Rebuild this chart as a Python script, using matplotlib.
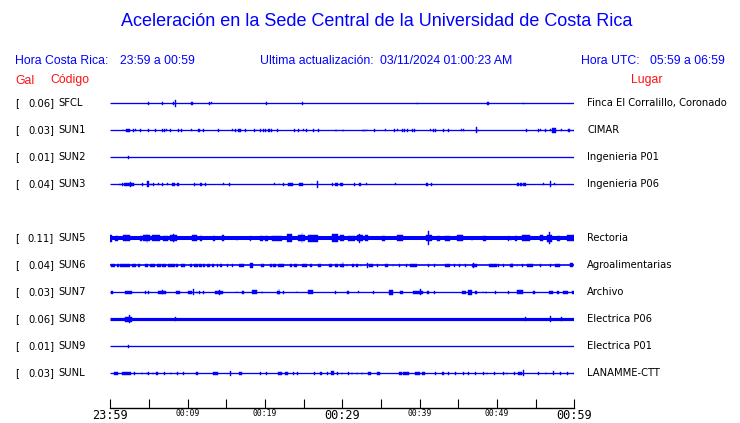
import matplotlib
matplotlib.use('Agg')
import matplotlib.pyplot as plt
import matplotlib.transforms as mtransforms

# estaciones, en el orden de la figura (la fila 4 queda vacia)
estaciones = ['SFCL', 'SUN1', 'SUN2', 'SUN3', 'SUN5', 'SUN6', 'SUN7', 'SUN8', 'SUN9', 'SUNL']
gal = [0.06, 0.03, 0.01, 0.04, 0.11, 0.04, 0.03, 0.06, 0.01, 0.03]
lugar = ['Finca El Corralillo, Coronado', 'CIMAR', 'Ingenieria P01', 'Ingenieria P06',
         'Rectoria', 'Agroalimentarias', 'Archivo', 'Electrica P06', 'Electrica P01', 'LANAMME-CTT']
fila = [0, 1, 2, 3, 5, 6, 7, 8, 9, 10]

tick_min = list(range(0, 61, 5))
tick_lab = ['23:59', '', '00:09', '', '00:19', '', '00:29', '', '00:39', '', '00:49', '', '00:59']

# eventos de cada traza: (minuto inicio, duracion en min, media amplitud)
ev_sfcl = [(4.91, 0, 1.2), (6.72, 0, 1.2), (8.15, 0, 1.2), (8.40, 0, 3.5), (10.45, 0.26, 1.5),
           (12.80, 0, 1.2), (13.02, 0, 1.0), (20.17, 0, 1.2), (24.83, 0, 1.2), (39.70, 0, 0.8),
           (48.75, 0.26, 1.5), (53.40, 0, 0.8)]
ev_sun1 = [(1.59, 0, 1), (1.98, 0.43, 1.7), (2.46, 0, 1.3), (2.97, 0, 1.3), (3.23, 0, 1.0),
           (3.79, 0.17, 1.5), (4.91, 0, 1.3), (5.82, 0, 1.3), (6.64, 0.17, 1.5), (6.94, 0, 1.3),
           (7.20, 0, 1.0), (7.67, 0.2, 1.5), (8.79, 0, 1.3), (9.09, 0.17, 1.5), (10.47, 0, 1.0),
           (11.38, 0.2, 1.5), (12.02, 0, 1.3), (13.96, 0, 1.3), (15.77, 0, 1.0), (16.12, 0, 1.3),
           (16.46, 0.26, 1.5), (16.77, 0, 1.3), (17.46, 0, 1.3), (18.62, 0, 1.3), (18.92, 0, 1.0),
           (19.39, 0, 1.3), (19.74, 0, 1.3), (20.04, 0, 1.3), (20.39, 0.3, 1.5), (20.77, 0, 1.3),
           (21.59, 0, 1.3), (23.79, 0, 1.3), (24.31, 0, 1.3), (24.95, 0, 1.0), (25.34, 0, 1.3),
           (26.25, 0, 1.3), (26.81, 0.2, 1.5), (29.14, 0, 1.3), (30.04, 0, 1.3), (32.63, 0, 1.3),
           (32.89, 0, 1.3), (33.15, 0, 1.0), (34.05, 0.2, 1.5), (35.56, 0, 1.0), (36.73, 0, 1.3),
           (37.11, 0, 1.0), (37.76, 0, 1.3), (38.02, 0, 1.3), (38.41, 0, 1.3), (39.05, 0, 1.3),
           (39.27, 0, 1.3), (41.38, 0, 1.0), (41.77, 0, 1.3), (42.03, 0, 1.3), (43.06, 0, 1.3),
           (43.71, 0, 1.3), (45.39, 0, 1.0), (45.65, 0, 1.0), (47.28, 0, 3.0), (47.50, 0, 1.5),
           (53.71, 0.2, 1.5), (55.34, 0, 1.3), (55.56, 0, 1.0), (56.25, 0, 1.3), (56.85, 0, 1.0),
           (57.15, 0.45, 2.5), (58.32, 0, 1.0), (59.14, 0.3, 1.5), (59.90, 0, 1.3)]
ev_sun2 = [(2.25, 0.22, 1.5)]
ev_sun3 = [(1.21, 0, 1.3), (1.55, 0, 1.3), (1.81, 1.2, 1.7), (2.54, 0, 2.5), (4.14, 0, 1.3),
           (4.78, 0.2, 3.0), (5.21, 0, 1.3), (5.56, 0, 1.3), (6.21, 0, 1.0), (6.72, 0, 1.3),
           (7.37, 0, 1.0), (7.93, 0.43, 1.7), (8.58, 0.26, 1.7), (10.86, 0, 1.3), (11.16, 0, 1.3),
           (11.59, 0.26, 1.5), (12.24, 0, 1.3), (14.61, 0, 1.0), (15.39, 0, 1.3), (21.20, 0, 1.0),
           (21.77, 0, 1.0), (22.37, 0, 1.3), (23.02, 0.56, 1.7), (24.44, 0.52, 1.7), (26.03, 0, 1.0),
           (26.72, 0, 3.5), (28.66, 0, 1.3), (29.05, 0.34, 1.7), (29.74, 0.34, 1.7), (31.51, 0, 1.3),
           (32.11, 0.34, 1.7), (33.06, 0, 1.0), (36.81, 0, 1.0), (40.86, 0.26, 1.5), (41.51, 0, 1.3),
           (52.59, 0.26, 1.7), (52.97, 0.22, 1.7), (53.36, 0.34, 1.7), (55.95, 0, 1.0),
           (56.90, 0, 3.0), (57.41, 0, 1.0)]
ev_sun5 = [(0.0, 0.2, 3.5), (0.60, 0.43, 2.5), (1.68, 0.86, 3.0), (3.84, 0.2, 2.5), (4.27, 0.86, 3.0),
           (4.70, 0, 4.5), (5.34, 1.08, 3.0), (6.85, 0.65, 2.5), (7.71, 0.86, 3.0), (8.10, 0, 4.0),
           (10.52, 0.65, 3.0), (11.59, 0.22, 2.5), (13.32, 0.22, 2.5), (14.40, 0.34, 3.0),
           (16.33, 0, 2.2), (18.06, 0, 2.2), (19.35, 0.43, 2.2), (20.0, 0.43, 2.5), (20.86, 1.3, 2.5),
           (22.80, 0.65, 4.0), (24.31, 0.86, 3.0), (24.74, 0, 5.0), (25.60, 1.3, 3.5), (28.62, 0.86, 4.0),
           (29.70, 0.52, 3.0), (30.78, 0.86, 2.5), (31.86, 0.86, 3.0), (32.20, 0, 4.5), (32.93, 0.43, 3.0),
           (35.09, 0.43, 2.5), (37.03, 0.86, 3.0), (40.82, 0.73, 3.0), (41.12, 0, 7.0), (42.20, 0.43, 2.5),
           (43.28, 0.65, 2.5), (44.79, 0.86, 3.0), (46.72, 0, 2.2), (48.23, 0.34, 2.5), (51.47, 0, 2.2),
           (51.77, 0, 2.2), (52.33, 0.22, 2.5), (53.19, 1.08, 3.0), (55.56, 0.43, 3.0), (56.42, 0.65, 3.5),
           (56.72, 0, 6.0), (57.72, 0.43, 2.5), (59.01, 1.08, 3.0)]
ev_sun6 = [(0.09, 0.52, 1.3), (0.82, 0.30, 1.3), (1.25, 1.29, 1.3), (2.76, 0.52, 1.3), (3.53, 0.30, 1.3),
           (4.48, 0.43, 1.3), (5.13, 0.65, 1.3), (5.99, 0.56, 1.3), (6.72, 0.43, 1.3), (7.41, 0.95, 1.3),
           (8.53, 0.26, 1.3), (9.14, 0.52, 1.3), (10.34, 0.26, 1.3), (10.86, 0.43, 1.3), (11.46, 0.34, 1.3),
           (12.02, 0.22, 1.3), (12.46, 0.47, 1.3), (13.10, 0.26, 1.3), (13.75, 0.22, 1.3), (14.18, 0.30, 1.3),
           (15.04, 0.22, 1.3), (15.69, 0.22, 1.3), (16.64, 0.60, 1.3), (18.06, 0.34, 2.5), (19.44, 0.47, 1.3),
           (20.64, 0.30, 1.3), (21.03, 0.34, 1.3), (21.72, 0.69, 1.3), (23.23, 0.30, 1.3), (23.79, 0.30, 1.3),
           (24.74, 0.65, 1.3), (25.77, 0.26, 1.3), (26.81, 0.43, 1.3), (28.27, 0.34, 1.3), (29.05, 0.34, 1.3),
           (29.70, 0.52, 1.3), (30.04, 0, 3.0), (30.56, 0, 1.3), (31.21, 0.30, 1.3), (31.77, 0.30, 1.3),
           (32.37, 0, 1.3), (33.15, 0.17, 2.5), (33.49, 0.43, 1.3), (34.53, 0, 1.3), (35.52, 0.34, 1.3),
           (36.51, 0, 1.3), (37.37, 0, 1.3), (38.23, 0, 1.3), (38.75, 0.86, 1.3), (41.12, 0, 1.3),
           (41.90, 0, 1.3), (43.28, 0.65, 1.3), (44.48, 0, 1.3), (45.13, 0, 1.3), (45.86, 0, 1.3),
           (46.72, 0.65, 1.3), (46.90, 0, 2.5), (49.01, 0.95, 1.3), (50.17, 0, 1.3), (50.82, 0, 1.3),
           (51.68, 0.43, 1.3), (51.90, 0, 2.5), (52.54, 0, 1.3), (53.28, 0, 1.3), (53.84, 0.86, 1.3),
           (55.56, 0, 1.3), (56.85, 0, 1.3), (57.50, 0.65, 1.3), (59.44, 0.34, 2.0)]
ev_sun7 = [(0.09, 0.30, 1.3), (1.90, 0.95, 1.3), (4.48, 0, 1.3), (4.91, 0, 1.3), (6.21, 0.95, 1.3),
           (6.72, 0, 2.0), (8.49, 0.52, 1.3), (10.09, 0.43, 1.3), (10.73, 0, 3.0), (11.16, 0, 1.3),
           (11.51, 0, 1.3), (12.02, 0, 1.3), (13.53, 1.08, 1.3), (14.05, 0, 2.5), (16.33, 0, 1.0),
           (16.98, 0.34, 1.3), (18.36, 0.56, 2.0), (19.57, 0, 1.3), (21.51, 0.43, 1.3), (21.77, 0, 3.0),
           (22.37, 0, 1.3), (24.09, 0, 1.0), (25.60, 0.65, 2.0), (29.05, 0, 1.3), (30.56, 0.34, 1.3),
           (32.07, 0, 1.0), (34.01, 0, 1.3), (36.08, 0.43, 2.5), (37.46, 0.34, 1.3), (39.18, 1.29, 1.3),
           (40.04, 0, 3.0), (40.99, 0.26, 1.3), (41.90, 0, 1.3), (45.43, 0.56, 1.3), (46.29, 0.43, 2.5),
           (47.16, 0.30, 1.3), (48.15, 0, 1.0), (48.53, 0, 1.3), (49.74, 0, 1.3), (51.47, 0, 1.3),
           (52.63, 0.78, 2.0), (54.61, 0.30, 1.3), (56.77, 0.43, 1.3), (57.72, 0.26, 1.3),
           (58.49, 0.73, 1.3), (59.65, 0.30, 1.3)]
ev_sun8 = [(1.90, 0.86, 2.5), (2.41, 0, 4.0), (8.36, 0, 2.0), (53.62, 0, 2.0), (54.48, 0, 1.8),
           (56.85, 0, 3.0), (58.28, 0, 2.0)]
ev_sun9 = [(2.25, 0.22, 1.5)]
ev_sunl = [(0.52, 0.52, 1.3), (1.55, 1.12, 1.3), (3.10, 0, 1.3), (4.05, 0, 1.3), (4.70, 0, 1.3),
           (4.91, 0, 1.3), (5.47, 0, 1.3), (5.86, 0.26, 1.3), (6.98, 0, 1.3), (7.80, 0, 1.3),
           (8.62, 0, 1.3), (9.44, 0, 1.3), (11.08, 0.30, 1.3), (13.32, 0.65, 1.3), (15.47, 0, 2.5),
           (16.64, 0.34, 1.3), (19.39, 0, 1.3), (20.13, 0, 1.3), (21.72, 0.43, 1.3), (22.58, 0.43, 1.3),
           (23.58, 0.22, 1.3), (24.18, 0, 1.3), (26.38, 0, 1.3), (27.11, 0.30, 1.3), (28.06, 0, 1.3),
           (28.53, 0.34, 2.0), (29.31, 0, 1.3), (29.91, 0, 1.3), (30.78, 0, 1.3), (31.21, 0, 1.3),
           (31.86, 0, 1.3), (32.50, 0, 1.3), (33.28, 0.39, 1.3), (34.44, 0.43, 1.3), (37.37, 0.34, 1.3),
           (37.89, 0.78, 1.3), (39.40, 0.65, 1.3), (40.26, 0.43, 1.3), (41.98, 0, 1.3), (42.85, 0.30, 1.3),
           (43.71, 0, 1.3), (44.57, 0, 1.3), (45.65, 0, 1.3), (46.29, 0, 1.3), (47.16, 0, 1.3),
           (48.15, 0.22, 1.3), (48.66, 0, 1.3), (49.66, 0, 1.3), (50.82, 0, 1.3), (51.25, 0, 1.3),
           (52.24, 0, 1.3), (52.67, 0.52, 1.3), (53.41, 0, 3.0), (55.34, 0, 1.3), (56.29, 0, 1.3),
           (57.28, 0, 2.0), (58.15, 0, 1.3), (59.01, 0.22, 1.3), (59.90, 0, 1.3)]

eventos = [ev_sfcl, ev_sun1, ev_sun2, ev_sun3, ev_sun5, ev_sun6, ev_sun7, ev_sun8, ev_sun9, ev_sunl]

AZUL = '#0000ff'
ROJO = '#ff1010'
W, H = 740, 423
fig = plt.figure(figsize=(W / 100, H / 100), dpi=100)

def fx(px):
    return px / W

def fy(py):
    return 1 - py / H

# ejes de las trazas: 110..574 px en x, eje de tiempo en y=408 px
ax = fig.add_axes([fx(110.3), fy(408.3), fx(574.3) - fx(110.3), fy(84.4) - fy(408.3)])
ax.set_xlim(0, 60)
ax.set_ylim(11.296, -0.7)
esc = 1 / 27.0  # 1 px en unidades de fila

grosor = {'SUN5': 2.9, 'SUN8': 2.3, 'SUN6': 1.2}
for est, f, ev in zip(estaciones, fila, eventos):
    ax.plot([0, 60], [f, f], color=AZUL, lw=grosor.get(est, 0.95), solid_capstyle='butt')
    t = [e[0] for e in ev]
    d = [max(e[1], 0.1) for e in ev]
    a = [e[2] for e in ev]
    ax.bar(t, [2 * x * esc for x in a], width=d, bottom=[f - x * esc for x in a],
           align='edge', color=AZUL, edgecolor=AZUL, linewidth=0.3)

for s in ['top', 'left', 'right']:
    ax.spines[s].set_visible(False)
ax.spines['bottom'].set_linewidth(1.0)
ax.set_yticks([])
ax.set_xticks(tick_min)
ax.set_xticklabels(tick_lab)
ax.tick_params(axis='x', direction='in', length=6.5, width=0.8, pad=0.8)
for lab in ax.get_xticklabels():
    lab.set_family('DejaVu Sans Mono')
    if lab.get_text() in ('23:59', '00:29', '00:59'):
        lab.set_fontsize(8.6)
    else:
        lab.set_fontsize(5.8)

# textos de cada fila
tr = mtransforms.blended_transform_factory(fig.transFigure, ax.transData)
for est, g, lu, f in zip(estaciones, gal, lugar, fila):
    ax.text(fx(15), f, '[', transform=tr, fontsize=7.2, va='center', ha='left')
    ax.text(fx(54), f, '%.2f]' % g, transform=tr, fontsize=7.2, va='center', ha='right')
    ax.text(fx(58.5), f, est, transform=tr, fontsize=7.2, va='center', ha='left')
    ax.text(fx(587), f, lu, transform=tr, fontsize=7.2, va='center', ha='left')

# encabezados
hf = 'Liberation Sans'
fig.text(fx(377), fy(22), 'Aceleración en la Sede Central de la Universidad de Costa Rica',
         family=hf, fontsize=13, color=AZUL, ha='center', va='center')
fig.text(fx(15), fy(60.5), 'Hora Costa Rica:', family=hf, fontsize=8.8, color=AZUL, va='center')
fig.text(fx(120), fy(60.5), '23:59 a 00:59', family=hf, fontsize=8.8, color=AZUL, va='center')
fig.text(fx(260), fy(60.5), 'Ultima actualización:', family=hf, fontsize=8.8, color=AZUL, va='center')
fig.text(fx(380), fy(60.5), '03/11/2024 01:00:23 AM', family=hf, fontsize=8.8, color=AZUL, va='center')
fig.text(fx(581), fy(60.5), 'Hora UTC:', family=hf, fontsize=8.8, color=AZUL, va='center')
fig.text(fx(650), fy(60.5), '05:59 a 06:59', family=hf, fontsize=8.8, color=AZUL, va='center')
fig.text(fx(15), fy(80.5), 'Gal', family=hf, fontsize=8.8, color=ROJO, va='center')
fig.text(fx(50), fy(80.5), 'Código', family=hf, fontsize=8.8, color=ROJO, va='center')
fig.text(fx(631), fy(80.5), 'Lugar', family=hf, fontsize=8.8, color=ROJO, va='center')

fig.savefig('out.png', dpi=100)
